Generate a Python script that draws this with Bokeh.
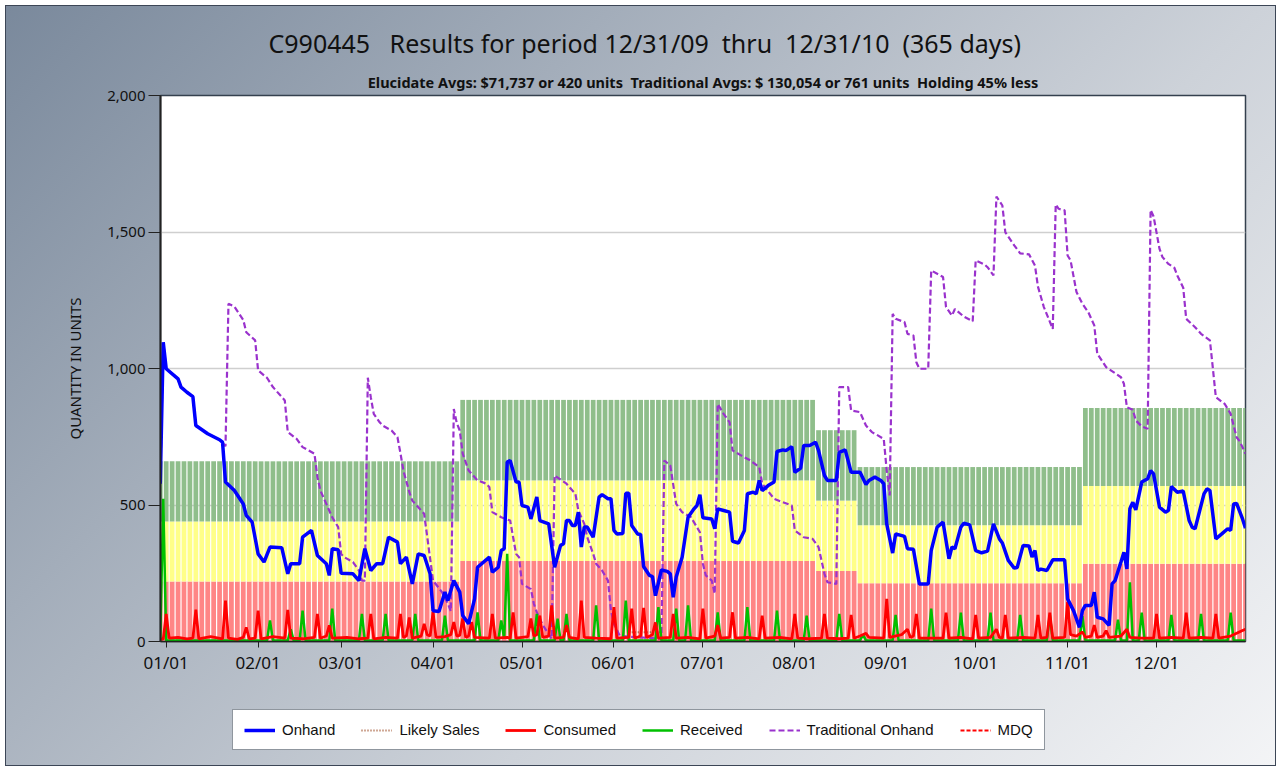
from datetime import datetime, timedelta
from bokeh.plotting import figure
from bokeh.layouts import column
from bokeh.models import (Range1d, FixedTicker, DatetimeTickFormatter, NumeralTickFormatter,
                          Title, Legend, LegendItem, ColumnDataSource)
from bokeh.embed import file_html
from bokeh.resources import INLINE

# ---------------- data (day 0 = 12/31/2009) ----------------
BASE = datetime(2009, 12, 31)

title_text = "C990445\u00a0\u00a0\u00a0Results for period 12/31/09\u00a0\u00a0thru\u00a0\u00a012/31/10\u00a0\u00a0(365 days)"
subtitle_text = ("Elucidate Avgs: $71,737 or 420 units\u00a0\u00a0Traditional Avgs: $ 130,054 or 761 units"
                 "\u00a0\u00a0Holding 45% less")

month_ticks = ["2010-01-01", "2010-02-01", "2010-03-01", "2010-04-01", "2010-05-01", "2010-06-01",
               "2010-07-01", "2010-08-01", "2010-09-01", "2010-10-01", "2010-11-01", "2010-12-01"]
y_ticks = [0, 500, 1000, 1500, 2000]

# stocking bands: each band = one "unit" thick (red, yellow, green stacked)
period_start = [-2, 100, 220, 234, 310]
period_unit = [220, 295, 258, 213, 285]
bar_days = list(range(-1, 366, 2))

onhand_day = [-1, 0, 1, 5, 6, 8, 10, 11, 15, 19, 20, 21, 24, 27, 28, 30, 32, 34, 36, 40, 42, 43, 46, 47, 50,
              52, 55, 56, 57, 59, 60, 64, 66, 68, 70, 72,
              74, 76, 79, 80, 82, 84, 86, 88, 90, 91, 93, 95, 96, 98, 100, 101, 103, 105, 106, 110, 111,
              113, 114, 115, 116, 117, 119, 120, 121, 123, 124, 126, 127, 130, 132, 134, 135, 136, 137,
              138, 139, 140, 141, 142, 143, 145, 147,
              148, 150, 151, 152, 153, 155, 156, 157, 158, 160, 161, 162, 164, 165, 166, 168, 170, 171,
              172, 173, 175, 177, 179, 180, 181, 182, 185, 186, 187, 189, 191, 192, 194, 196, 197, 199,
              200, 201, 202, 204, 206, 207, 209, 210, 212, 213, 215, 216, 218, 220, 221, 223,
              224, 227, 228, 230, 232, 235, 237, 238, 240, 242, 243, 244, 246, 247, 250, 251, 253, 255,
              258, 259, 261, 263, 265, 266, 267, 269, 270, 272, 274, 276, 278, 280, 282, 283, 285, 287,
              288, 290, 292, 293, 294, 295,
              296, 298, 300, 304, 305, 307, 309, 310, 311, 313, 314, 315, 317, 319, 320, 321, 323, 324,
              325, 326, 327, 328, 330, 332, 333, 334, 336, 338, 339, 340, 342, 344, 346, 347, 348, 351,
              352, 353, 355, 357, 359, 360, 361, 362, 364, 365]
onhand_qty = [578, 1096, 999, 962, 932, 913, 897, 791, 761, 739, 730, 584, 553, 504, 462, 437, 321, 291, 346,
              343, 248, 285, 285, 382, 407, 315, 285, 242, 340, 336, 250, 248, 223, 340, 260, 285,
              285, 382, 364, 285, 309, 211, 321, 315, 248, 113, 110, 181, 150, 223, 181, 95, 65, 156, 272,
              309, 254, 272, 333, 340, 657, 663, 584, 584, 498, 492, 449, 529, 443, 431, 272, 352, 358,
              443, 443, 425, 425, 474, 346, 419, 419, 382, 529,
              538, 523, 523, 407, 394, 396, 543, 543, 425, 394, 392, 275, 242, 238, 168, 262, 257, 248,
              162, 236, 309, 455, 486, 498, 538, 453, 449, 413, 486, 480, 474, 367, 361, 407, 541, 547,
              541, 590, 553, 571, 584, 696, 702, 699, 714, 620, 635, 718, 718, 730, 700, 608,
              590, 590, 693, 702, 620, 620, 575, 590, 602, 590, 578, 431, 324, 394, 385, 340, 338, 211,
              211, 333, 419, 437, 303, 346, 340, 419, 433, 427, 333, 325, 331, 431, 376, 361, 297, 269,
              271, 352, 350, 309, 333, 260,
              265, 260, 299, 299, 156, 113, 52, 113, 132, 132, 181, 89, 83, 59, 211, 223, 291, 327,
              266, 486, 510, 482, 584, 596, 626, 614, 492, 474, 480, 568, 547, 551, 443, 419, 413, 541,
              559, 553, 376, 394, 413, 407, 504, 506, 449, 415]

trad_day = [-1, 0, 1, 5, 6, 8, 10, 11, 15, 19, 20, 21, 22, 24, 27, 28, 31, 32, 35, 37, 41, 42, 45, 47, 51,
            52, 53, 55, 57, 59, 60, 61, 64, 66, 67, 68, 69, 70, 71, 73, 74, 77, 79, 80, 81, 83, 84, 87,
            88, 91, 94, 96, 97, 98, 99, 100, 101, 103, 106, 109, 110, 111, 114, 117, 118, 119, 120, 121,
            124, 125, 126, 128, 131, 132, 136, 138, 139, 140, 142, 143, 145, 146, 148, 150, 151, 152,
            154, 168, 169, 171, 173, 175, 178, 181, 182, 183, 185, 186, 187, 189, 191, 192, 195, 198,
            201, 202, 206, 209, 212, 213, 216, 219, 221, 223, 224, 227, 228, 231, 232, 235, 237, 239,
            241, 243, 244, 245, 246, 247, 250, 251, 253, 254, 255, 258, 259, 263, 264, 266, 267, 270,
            273, 274, 277, 278, 280, 281, 283, 284, 287, 289, 292, 294, 295, 297, 300, 301, 302, 304,
            305, 306, 308, 310, 312, 313, 314, 315, 318, 321, 323, 324, 325, 327, 328, 330, 332, 333,
            334, 336, 337, 339, 341, 342, 344, 345, 348, 350, 353, 354, 355, 358, 360, 362, 363, 365]
trad_qty = [578, 1096, 999, 962, 932, 913, 897, 791, 761, 739, 730, 715, 1237, 1227, 1178, 1133, 1103, 993,
            966, 932, 883, 767, 742, 712, 688, 602, 553, 504, 455, 419, 321, 309, 291, 260, 223, 223, 966,
            895, 834, 803, 791, 773, 748, 690, 626, 547, 516, 480,
            468, 223, 181, 138, 111, 852, 800, 773, 688, 626, 590, 578, 565, 474, 455, 443, 382, 321, 309,
            211, 192, 138, 107, 60, 10, 608, 578, 553, 541, 480, 431, 382, 321, 285, 260, 223, 113, 65,
            20, 10, 663, 645, 504, 474, 455, 400, 285, 242, 223, 175, 870, 834, 803, 700, 681, 663,
            639, 578, 523, 510, 498, 407, 382, 376, 346, 248, 217, 211, 932, 932, 846, 840, 791, 767,
            755, 742, 626, 535, 1200, 1182, 1170, 1127, 1121, 1023, 999, 999, 1359, 1335, 1225, 1194,
            1218, 1190, 1173, 1396, 1381, 1371, 1341, 1630, 1597, 1499, 1451, 1422, 1418, 1377, 1300,
            1225, 1145, 1601, 1585, 1579, 1414, 1396, 1280, 1237, 1206, 1182, 1158, 1054, 1005, 983, 968,
            944, 858, 849, 810, 788, 779, 1581, 1557, 1438, 1408, 1383, 1369, 1341, 1296, 1182, 1151,
            1127, 1103, 1000, 895, 870, 834, 748, 734, 688]

received_day = [-1, 0, 1, 35, 36, 37, 42, 43, 44, 46, 47, 48, 56, 57, 58, 66, 67, 68, 74, 75, 76, 84, 85,
                86, 94, 95, 96, 105, 106, 107, 113, 114, 115, 116, 117, 125, 126, 127, 132, 133, 134,
                135, 136, 137, 145, 146, 147, 155, 156, 157, 166, 167, 168, 172, 173, 174, 176, 177, 178,
                186, 187, 188, 196, 197, 198, 206, 207, 208, 216, 217, 218, 227, 228, 229, 235, 236, 237,
                246, 247, 248, 258, 259, 260, 268, 269, 270, 278, 279, 280, 288, 289, 290, 298, 299, 300,
                309, 310, 311, 321, 322, 323, 325, 326, 327, 329, 330, 331, 339, 340, 341, 349, 350, 351,
                359, 360, 361, 365]
received_qty = [0, 523, 4, 4, 77, 4, 4, 45, 4, 4, 113, 4, 4, 120, 4, 4, 101, 4, 4, 101, 4, 4, 101,
                4, 4, 95, 4, 4, 107, 4, 4, 77, 10, 321, 4, 4, 101, 4, 4, 84, 4,
                4, 101, 4, 4, 132, 4, 4, 150, 4, 4, 126, 4, 4, 120, 4, 4, 132, 4,
                4, 107, 4, 4, 126, 4, 4, 113, 4, 4, 95, 4, 4, 101, 4, 4, 25, 4,
                4, 97, 4, 4, 120, 4, 4, 106, 4, 4, 106, 4, 4, 97, 4, 4, 97, 4,
                4, 93, 4, 4, 80, 4, 4, 217, 4, 4, 106, 4, 4, 97, 4, 4, 101, 4,
                4, 106, 4, 4]

consumed_day = [-1, 0, 1, 2, 5, 8, 10, 11, 12, 16, 20, 21, 22, 25, 27, 28, 29, 31, 32, 33, 37, 41, 42, 43,
                47, 51, 52, 53, 55, 56, 57, 62, 66, 69, 70, 71, 75, 79, 80, 81, 82, 83, 84, 87, 88, 89,
                90, 91, 92, 95, 97, 98, 99, 100, 101, 102, 103, 104, 105, 110, 111, 112, 116, 117, 118,
                119, 123, 124, 125, 126, 127, 128, 130, 131, 132, 135, 136, 137, 140, 141, 142, 146, 151,
                152, 153, 157, 158, 159, 161, 162, 163, 165, 166, 167, 171, 172, 173, 177, 181, 182, 183,
                186, 187, 188, 191, 192, 193, 197, 201, 202, 203, 208, 212, 213, 214, 218, 222, 223, 224,
                228, 231, 232, 233, 235, 237, 238, 243, 244, 245, 249, 251, 252, 253, 254, 255, 259, 263,
                264, 265, 269, 273, 274, 275, 279, 281, 282, 283, 284, 285, 290, 294, 295, 296, 298, 299,
                300, 304, 305, 306, 308, 310, 311, 313, 314, 315, 317, 318, 319, 323, 325, 326, 330, 334,
                335, 336, 340, 344, 345, 346, 350, 354, 355, 356, 360, 362, 364, 365]
consumed_qty = [10, 8, 101, 12, 15, 10, 12, 117, 10, 18, 10, 150, 12, 8, 15, 52, 10, 12, 113, 10, 18, 12, 116,
                12, 10, 15, 101, 12, 20, 59, 12, 15, 10, 12, 101, 10, 15, 12, 101, 15, 20, 88, 12, 20, 65,
                25, 20, 107, 15, 18, 25, 71, 20, 22, 84, 15, 20, 71, 15, 12, 101, 12, 15, 12, 107,
                12, 18, 84, 20, 25, 95, 15, 20, 132, 12, 15, 60, 15, 10, 150, 15, 12, 10,
                126, 12, 15, 120, 12, 20, 123, 15, 25, 70, 12, 15, 101, 12, 15, 10, 120, 12,
                20, 60, 12, 15, 107, 12, 15, 10, 95, 12, 15, 10, 101, 12, 10, 12, 101, 12,
                10, 12, 97, 12, 20, 30, 15, 12, 156, 15, 25, 45, 15, 20, 101, 12, 12, 12,
                106, 12, 15, 10, 97, 12, 15, 45, 15, 12, 97, 12, 15, 12, 97, 12, 15, 106,
                12, 15, 144, 25, 20, 35, 15, 20, 60, 15, 20, 40, 15, 20, 45, 15, 12, 12,
                101, 12, 15, 12, 106, 12, 15, 12, 101, 12, 20, 30, 40, 45]

likely_day = [157, 168]
likely_qty = [34, 34]

mdq_day = []
mdq_qty = []

series_names = ["Onhand", "Likely Sales", "Consumed", "Received", "Traditional Onhand", "MDQ"]

# ---------------- helpers ----------------
def to_dt(days):
    return [BASE + timedelta(days=d) for d in days]

def ms(dt):
    return (dt - datetime(1970, 1, 1)).total_seconds() * 1000.0

DAY_MS = 86400000.0

# band table built from the period arrays
bar_unit = []
for c in bar_days:
    idx = max(i for i, s in enumerate(period_start) if s <= c)
    bar_unit.append(period_unit[idx])
bands = ColumnDataSource(dict(
    x=to_dt(bar_days),
    r_top=[u for u in bar_unit],
    y_top=[2 * u for u in bar_unit],
    g_top=[3 * u for u in bar_unit],
    zero=[0] * len(bar_unit),
))

FONT = "Noto Sans"
STYLES = {
    "Onhand": dict(line_color="#0000ff", line_width=3.5),
    "Likely Sales": dict(line_color="#a0522d", line_width=2, line_dash="1 2"),
    "Consumed": dict(line_color="#ff0000", line_width=2.8),
    "Received": dict(line_color="#00c000", line_width=2.5),
    "Traditional Onhand": dict(line_color="#9a32cd", line_width=2.2, line_dash="6 3"),
    "MDQ": dict(line_color="#ff0000", line_width=2, line_dash="4 2"),
}

p = figure(width=1271, height=700, x_axis_type="datetime",
           x_range=Range1d(ms(BASE - timedelta(days=0.92)), ms(BASE + timedelta(days=365.0))),
           y_range=Range1d(0, 2000),
           output_backend="svg", toolbar_location=None,
           min_border_left=155, min_border_right=31, min_border_top=90, min_border_bottom=64)
p.title.visible = False
p.border_fill_color = None
p.background_fill_color = "white"
p.outline_line_color = "#34404e"
p.outline_line_width = 1.5

w = 2 * DAY_MS * 0.8
p.vbar(x="x", width=w, bottom="zero", top="r_top", source=bands, fill_color="#ff8585", line_color=None)
p.vbar(x="x", width=w, bottom="r_top", top="y_top", source=bands, fill_color="#ffff88", line_color=None)
p.vbar(x="x", width=w, bottom="y_top", top="g_top", source=bands, fill_color="#8fbe8b", line_color=None)

p.line(to_dt(trad_day), trad_qty, **STYLES["Traditional Onhand"])
if likely_day:
    p.line(to_dt(likely_day), likely_qty, **STYLES["Likely Sales"])
p.line(to_dt(received_day), received_qty, **STYLES["Received"])
p.line(to_dt(consumed_day), consumed_qty, **STYLES["Consumed"])
if mdq_day:
    p.line(to_dt(mdq_day), mdq_qty, **STYLES["MDQ"])
p.line(to_dt(onhand_day), onhand_qty, **STYLES["Onhand"])

# axes
p.xaxis.ticker = FixedTicker(ticks=[ms(datetime.strptime(t, "%Y-%m-%d")) for t in month_ticks])
fmt = "%m/%d"
p.xaxis.formatter = DatetimeTickFormatter(microseconds=fmt, milliseconds=fmt, seconds=fmt, minsec=fmt,
                                          minutes=fmt, hourmin=fmt, hours=fmt, days=fmt, months=fmt, years=fmt)
p.xaxis.major_label_text_font = FONT
p.xaxis.major_label_text_font_size = "17px"
p.xaxis.major_label_text_color = "#111111"
p.xaxis.major_tick_in = 0
p.xaxis.major_tick_out = 6
p.xaxis.minor_tick_out = 0
p.xaxis.minor_tick_in = 0
p.xaxis.major_label_standoff = 3
p.xaxis.axis_line_color = "#222222"
p.xaxis.axis_line_width = 1.5
p.xaxis.major_tick_line_color = "#222222"

p.yaxis.ticker = FixedTicker(ticks=y_ticks)
p.yaxis.formatter = NumeralTickFormatter(format="0,0")
p.yaxis.major_label_text_font = FONT
p.yaxis.major_label_text_font_size = "15px"
p.yaxis.major_label_text_color = "#111111"
p.yaxis.major_tick_in = 0
p.yaxis.major_tick_out = 12
p.yaxis.minor_tick_out = 0
p.yaxis.minor_tick_in = 0
p.yaxis.major_label_standoff = 3
p.yaxis.axis_line_color = "#222222"
p.yaxis.axis_line_width = 2
p.yaxis.major_tick_line_color = "#222222"
p.yaxis.axis_label = "QUANTITY IN UNITS"
p.yaxis.axis_label_text_font = FONT
p.yaxis.axis_label_text_font_size = "15px"
p.yaxis.axis_label_text_font_style = "normal"
p.yaxis.axis_label_text_color = "#111111"
p.yaxis.axis_label_standoff = 19

p.xgrid.visible = False
p.ygrid.grid_line_color = "#cfcfcf"
p.ygrid.grid_line_width = 1.5

# titles (first added sits nearest the frame)
p.add_layout(Title(text=subtitle_text, align="center", text_font=FONT, text_font_size="14.5px",
                   text_font_style="bold", text_color="#111111", standoff=8), "above")
p.add_layout(Title(text=title_text, align="left", offset=108, text_font=FONT, text_font_size="25px",
                   text_font_style="normal", text_color="#111111", standoff=11), "above")

# legend strip (separate small canvas below the chart; its frame aligns with the chart frame)
lg = figure(width=1271, height=61, x_range=Range1d(0, 1), y_range=Range1d(0, 1),
            output_backend="svg", toolbar_location=None, x_axis_location=None, y_axis_location=None,
            min_border=0, min_border_left=0, min_border_right=0, min_border_top=0, min_border_bottom=0)
lg.title.visible = False
lg.grid.visible = False
lg.outline_line_color = None
lg.background_fill_color = None
lg.border_fill_color = None
items = []
for name in series_names:
    r = lg.line([-5, -4], [-5, -4], **STYLES[name])
    items.append(LegendItem(label=name, renderers=[r]))
legend = Legend(items=items, orientation="horizontal", location=(72, 16))
legend.label_text_font = "Liberation Sans"
legend.label_text_font_size = "15px"
legend.label_text_color = "#111111"
legend.glyph_width = 31
legend.glyph_height = 16
legend.label_standoff = 7
legend.spacing = 26
legend.padding = 11
legend.margin = 0
legend.border_line_color = "#1f2d3d"
legend.border_line_width = 1.2
legend.background_fill_color = "white"
legend.background_fill_alpha = 1.0
lg.add_layout(legend, "center")

page = column(p, lg, spacing=0)
page.styles = {"background": "linear-gradient(135deg, #7a899c 0%, #a3adba 30%, #cdd2d9 62%, #f3f4f6 100%)",
               "box-shadow": "inset 0 0 0 1px #3c4656",
               "margin-left": "5px", "margin-top": "5px"}

open("out.html", "w").write(file_html(page, INLINE))
